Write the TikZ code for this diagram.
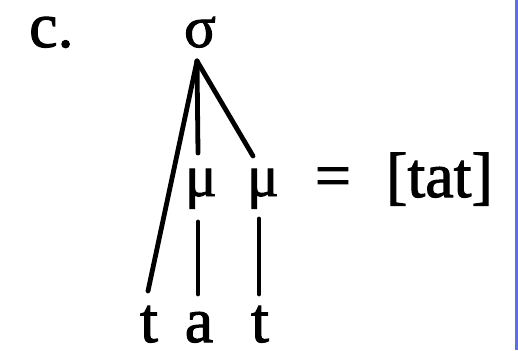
\documentclass[tikz,border=0pt]{standalone}
\usepackage{fontspec}
\setmainfont{Liberation Serif}
\newfontfamily\heavyserif{Liberation Serif}[FakeBold=1.6]
\definecolor{edgeblue}{RGB}{92,110,236}
\begin{document}
\begin{tikzpicture}[x=1pt,y=-1pt,
  lbl/.style={inner sep=0pt,anchor=base,font=\heavyserif\fontsize{64}{64}\selectfont},
  greek/.style={lbl,font=\heavyserif\fontsize{59}{59}\selectfont},
  branch/.style={line width=4.8pt,line cap=round}]
\useasboundingbox (0,0) rectangle (518,350);
\fill[white] (0,0) rectangle (518,350);
\fill[edgeblue] (515,0) rectangle (518,350);
% labels
\node[lbl,anchor=base west] (c) at (29,47) {c.};
\node[greek] (sigma) at (200,47) {σ};
\node[greek] (mu1) at (201,196) {μ};
\node[greek] (mu2) at (263,196) {μ};
\node[lbl] (eq) at (333,197) {=};
\node[lbl,anchor=base west] (out) at (386,197) {[tat]};
\node[lbl] (t1) at (149,342) {t};
\node[lbl] (a) at (199,342) {a};
\node[lbl] (t2) at (260,342) {t};
% attachment points
\coordinate (apex) at (197,61);
\coordinate (t1top) at (148,291);
\coordinate (mu1top) at (198,153);
\coordinate (mu2top) at (253,156);
\coordinate (mu1bot) at (198,222);
\coordinate (atop) at (198,294);
\coordinate (mu2bot) at (259,219);
\coordinate (t2top) at (259,294);
% branches
\draw[branch] (apex) -- (t1top);
\draw[branch] (apex) -- (mu1top);
\draw[branch] (apex) -- (mu2top);
\draw[branch] (mu1bot) -- (atop);
\draw[branch] (mu2bot) -- (t2top);
\end{tikzpicture}
\end{document}
